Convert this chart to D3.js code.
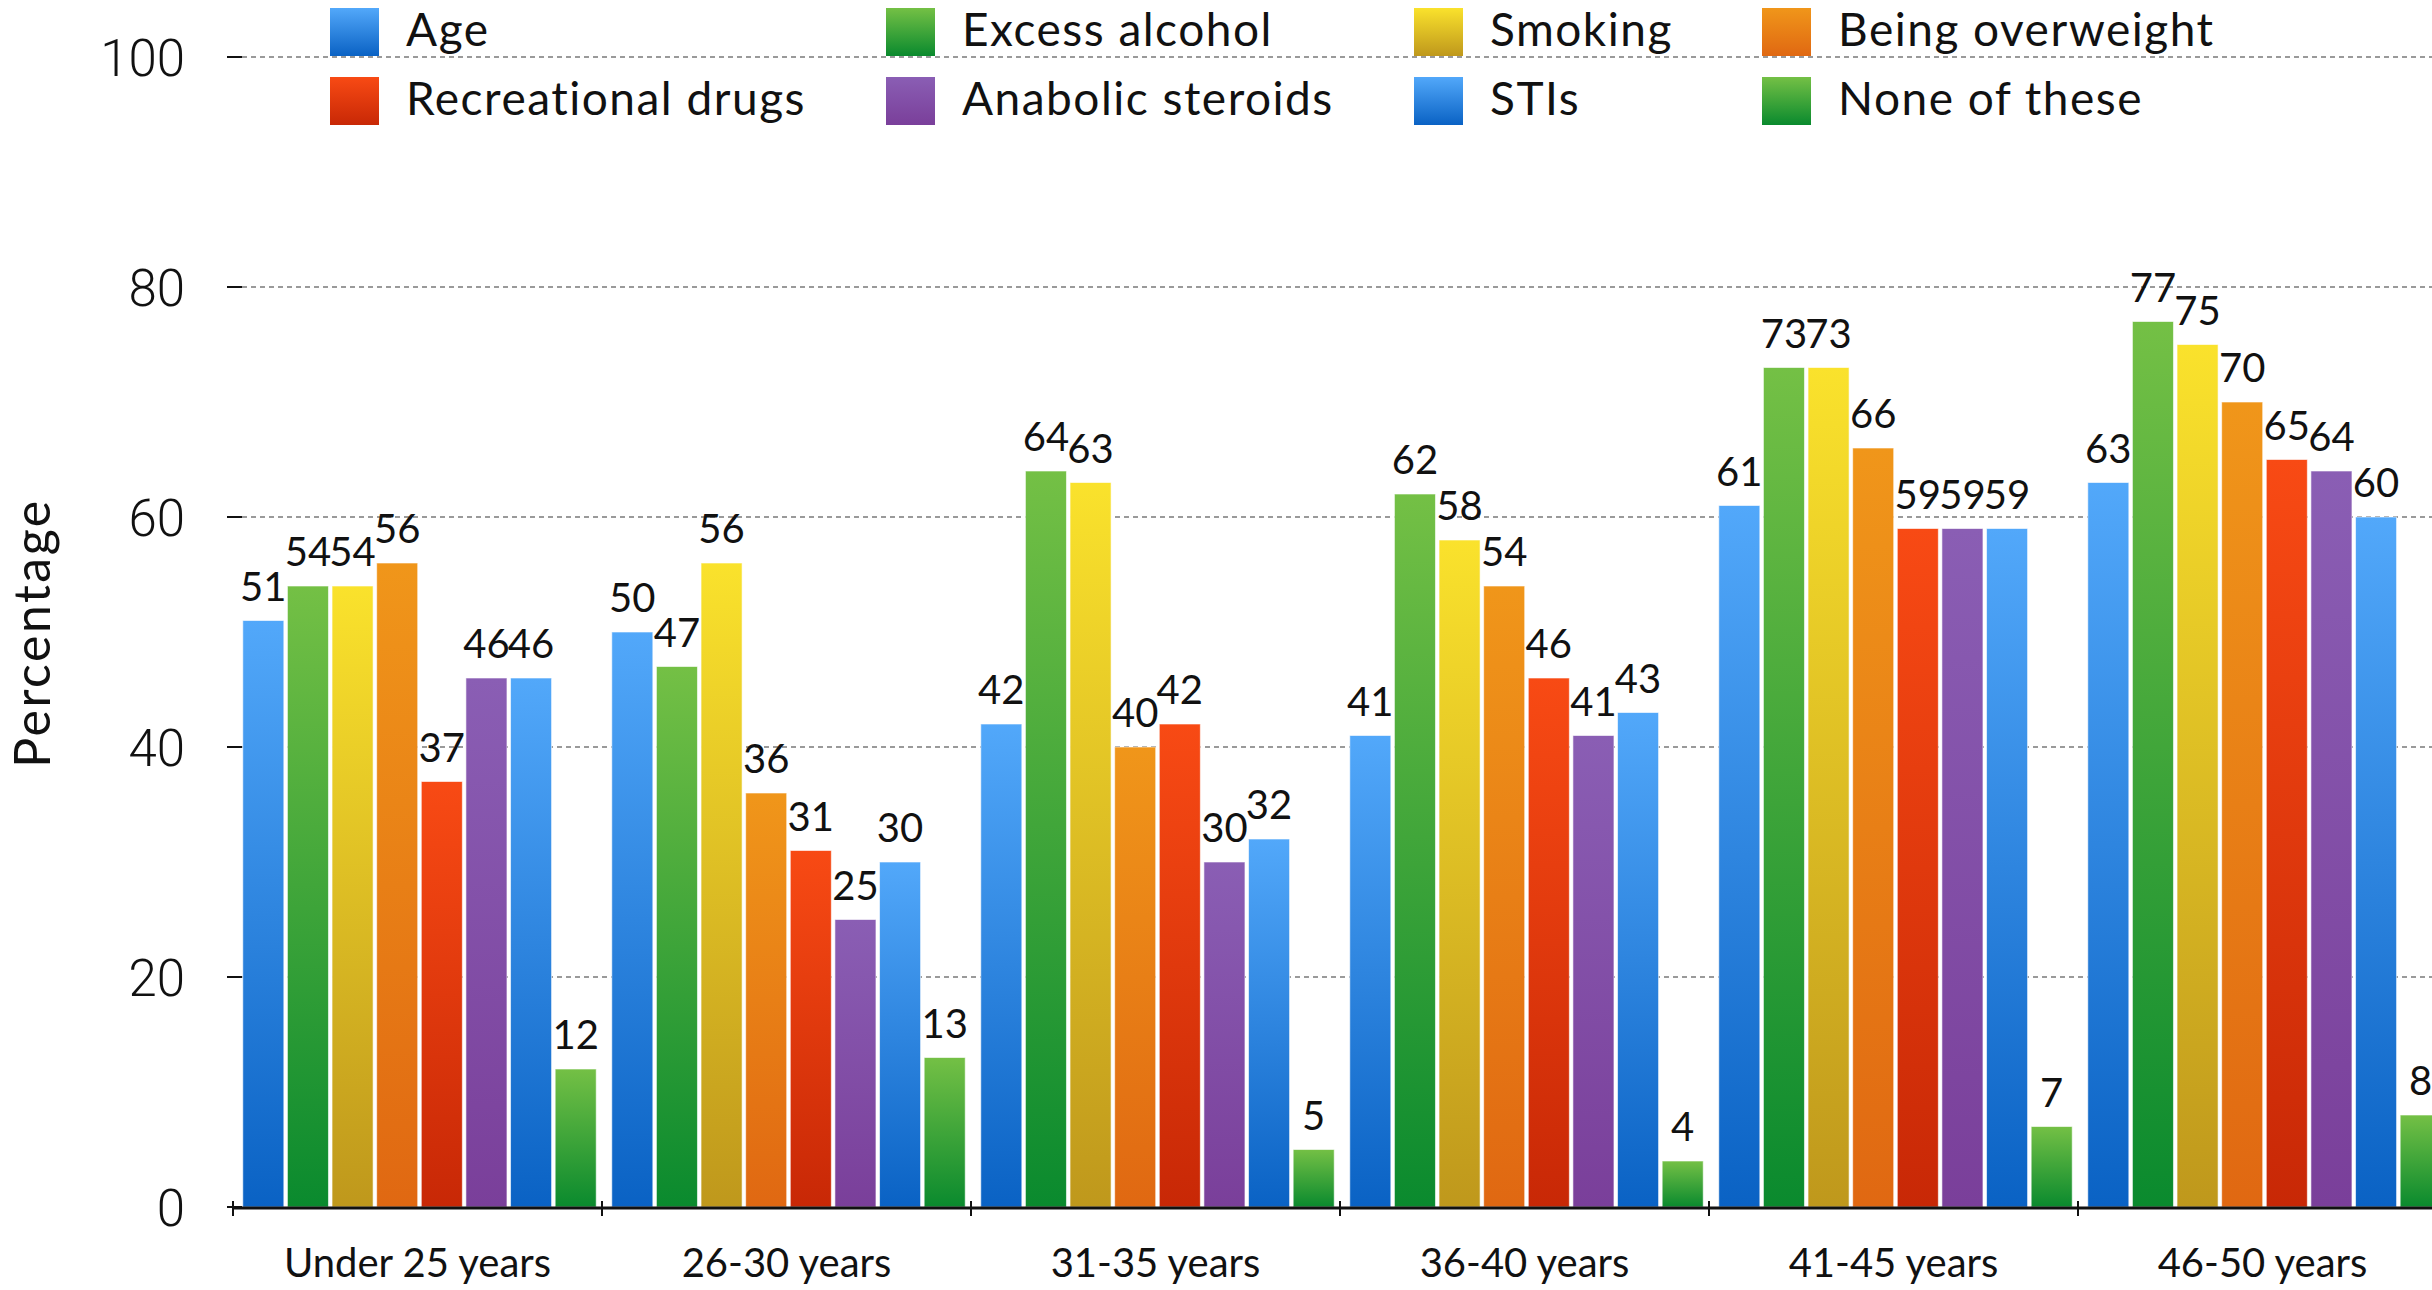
<!DOCTYPE html>
<html>
<head>
<meta charset="utf-8">
<script src="https://cdn.jsdelivr.net/npm/d3@7"></script>
<style>
  html, body { margin: 0; padding: 0; background: #fff; overflow: hidden; }
  svg { display: block; }
</style>
</head>
<body>
<svg id="chart" width="2432" height="1290"></svg>
<script>
// ---- data ----
const categories = ["Under 25 years", "26-30 years", "31-35 years", "36-40 years", "41-45 years", "46-50 years"];
const seriesNames = ["Age", "Excess alcohol", "Smoking", "Being overweight", "Recreational drugs", "Anabolic steroids", "STIs", "None of these"];
const age            = [51, 50, 42, 41, 61, 63];
const excessAlcohol  = [54, 47, 64, 62, 73, 77];
const smoking        = [54, 56, 63, 58, 73, 75];
const overweight     = [56, 36, 40, 54, 66, 70];
const recDrugs       = [37, 31, 42, 46, 59, 65];
const steroids       = [46, 25, 30, 41, 59, 64];
const stis           = [46, 30, 32, 43, 59, 60];
const noneOfThese    = [12, 13, 5, 4, 7, 8];
const seriesValues = [age, excessAlcohol, smoking, overweight, recDrugs, steroids, stis, noneOfThese];
const yTicks = [0, 20, 40, 60, 80, 100];
const yTitle = "Percentage";

// ---- styles ----
const gradTop    = ["#52a8fa", "#74c045", "#fae22c", "#f0961a", "#f84a14", "#8a5eb4", "#52a8fa", "#74c045"];
const gradBottom = ["#0a62c4", "#0a8a2e", "#bf981c", "#e06812", "#c82806", "#7a3f9a", "#0a62c4", "#0a8a2e"];

const svg = d3.select("#chart");
const defs = svg.append("defs");
seriesNames.forEach((s, i) => {
  const g = defs.append("linearGradient").attr("id", "grad" + i)
    .attr("x1", 0).attr("y1", 0).attr("x2", 0).attr("y2", 1);
  g.append("stop").attr("offset", "0%").attr("stop-color", gradTop[i]);
  g.append("stop").attr("offset", "100%").attr("stop-color", gradBottom[i]);
});

const plotLeft = 233, groupW = 369;
const x0 = d3.scaleBand().domain(categories).range([plotLeft, plotLeft + groupW * categories.length]).padding(0);
const x1 = d3.scaleBand().domain(seriesNames).range([8, 365]).paddingInner(0.08).paddingOuter(0.04);
const y = d3.scaleLinear().domain([0, 100]).range([1207, 57]);

// grid lines
svg.append("g").selectAll("line").data(yTicks.filter(t => t > 0)).join("line")
  .attr("x1", 242).attr("x2", 2432)
  .attr("y1", d => y(d)).attr("y2", d => y(d))
  .attr("stroke", "#9a9a9a").attr("stroke-width", 2).attr("stroke-dasharray", "5,4");

// y axis ticks + labels
const yAxis = d3.axisLeft(y).tickValues(yTicks).tickSize(0).tickPadding(0);
const yg = svg.append("g").attr("transform", `translate(185,0)`).call(yAxis);
yg.select(".domain").remove();
yg.selectAll("text").attr("font-family", "Roboto").attr("font-weight", 300)
  .attr("font-size", 51).attr("fill", "#111").attr("x", 0).attr("dy", "0.36em");
svg.append("g").selectAll("line").data(yTicks).join("line")
  .attr("x1", 227).attr("x2", 242).attr("y1", d => y(d)).attr("y2", d => y(d))
  .attr("stroke", "#111").attr("stroke-width", 2);

// y title
svg.append("text").attr("transform", `translate(50,633) rotate(-90)`)
  .attr("text-anchor", "middle").attr("font-family", "Lato").attr("font-size", 50)
  .attr("letter-spacing", 2.5).attr("fill", "#111").text(yTitle);

// bars
const groups = svg.append("g").selectAll("g").data(categories).join("g")
  .attr("transform", d => `translate(${x0(d)},0)`);
groups.each(function(cat, ci) {
  const g = d3.select(this);
  const rows = seriesNames.map((s, si) => ({ s, si, v: seriesValues[si][ci] }));
  g.selectAll("rect").data(rows).join("rect")
    .attr("x", d => x1(d.s)).attr("width", x1.bandwidth())
    .attr("y", d => y(d.v)).attr("height", d => y(0) - y(d.v))
    .attr("fill", d => `url(#grad${d.si})`)
    .attr("stroke", "#ffffff").attr("stroke-opacity", 0.6).attr("stroke-width", 1);
  g.selectAll("text").data(rows).join("text")
    .attr("x", d => x1(d.s) + x1.bandwidth() / 2).attr("y", d => y(d.v) - 20)
    .attr("text-anchor", "middle").attr("font-family", "Lato").attr("font-size", 40)
    .attr("fill", "#111").text(d => d.v);
});

// x axis
const xAxis = d3.axisBottom(x0).tickSize(0).tickPadding(0);
const xg = svg.append("g").attr("transform", `translate(0,${y(0)})`).call(xAxis);
xg.select(".domain").remove();
xg.selectAll("text").attr("font-family", "Lato").attr("font-size", 40)
  .attr("fill", "#111").attr("y", 70).attr("dy", 0);
svg.append("line").attr("x1", plotLeft).attr("x2", 2432).attr("y1", y(0) + 1).attr("y2", y(0) + 1)
  .attr("stroke", "#111").attr("stroke-width", 3);
const bounds = categories.map(c => x0(c));
svg.append("g").selectAll("line").data(bounds).join("line")
  .attr("x1", d => d).attr("x2", d => d).attr("y1", y(0) - 6).attr("y2", y(0) + 9)
  .attr("stroke", "#111").attr("stroke-width", 2);

// legend
const legCols = [330, 886, 1414, 1762];
const legRows = [8, 77];
const leg = svg.append("g").selectAll("g").data(seriesNames).join("g")
  .attr("transform", (d, i) => `translate(${legCols[i % 4]},${legRows[Math.floor(i / 4)]})`);
leg.append("rect").attr("width", 49).attr("height", 48).attr("fill", (d, i) => `url(#grad${i})`);
leg.append("text").attr("x", 76).attr("y", 38).attr("font-family", "Lato").attr("font-size", 46)
  .attr("letter-spacing", 1.5).attr("fill", "#111").text(d => d);
</script>
</body>
</html>
